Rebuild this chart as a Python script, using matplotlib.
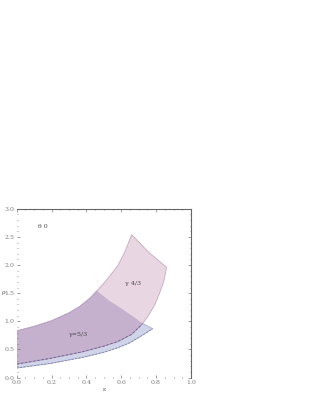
import matplotlib.pyplot as plt
from matplotlib.patches import Polygon
from matplotlib.ticker import MultipleLocator
import numpy as np

# curvas que limitan las regiones
top_x = [0.0, 0.10, 0.20, 0.30, 0.36, 0.42, 0.46, 0.52, 0.58, 0.62, 0.66]
top_y = [0.83, 0.91, 1.01, 1.15, 1.26, 1.41, 1.54, 1.75, 1.99, 2.23, 2.54]

a_right_x = [0.46, 0.53, 0.60, 0.67, 0.73, 0.78]
a_right_y = [1.54, 1.37, 1.23, 1.08, 0.95, 0.87]

a_bot_x = [0.0, 0.19, 0.38, 0.50, 0.58, 0.65, 0.71, 0.78]
a_bot_y = [0.17, 0.25, 0.36, 0.45, 0.53, 0.62, 0.73, 0.87]

b_right_x = [0.66, 0.76, 0.86]
b_right_y = [2.54, 2.22, 1.96]

b_low_x = [0.86, 0.845, 0.82, 0.79, 0.755, 0.72]
b_low_y = [1.96, 1.72, 1.50, 1.28, 1.10, 0.95]

b_bot_x = [0.0, 0.19, 0.38, 0.50, 0.58, 0.66, 0.72]
b_bot_y = [0.24, 0.34, 0.46, 0.56, 0.64, 0.77, 0.95]

x_ticks = [0.0, 0.2, 0.4, 0.6, 0.8, 1.0]
y_ticks = [0.0, 0.5, 1.0, 1.5, 2.0, 2.5, 3.0]

n_a = 7  # puntos de top que pertenecen a la region A

fig = plt.figure(figsize=(3.09, 4.0), dpi=100)
ax = fig.add_axes([0.054, 0.056, 0.564, 0.422])

# region A (gamma=5/3)
pa = list(zip(top_x[:n_a], top_y[:n_a])) + list(zip(a_right_x[1:], a_right_y[1:])) \
    + list(zip(a_bot_x[::-1], a_bot_y[::-1]))
# region B (gamma=4/3)
pb = list(zip(top_x, top_y)) + list(zip(b_right_x[1:], b_right_y[1:])) \
    + list(zip(b_low_x[1:], b_low_y[1:])) + list(zip(b_bot_x[::-1][1:], b_bot_y[::-1][1:]))

poly_a = Polygon(pa, closed=True, facecolor="#d0d4e8", edgecolor="#a8acd0", lw=0.6)
poly_b = Polygon(pb, closed=True, facecolor="#e8d6e2", edgecolor="#c8a8c0", lw=0.6)
ax.add_patch(poly_a)
ax.add_patch(poly_b)
over = Polygon(pb, closed=True, facecolor="#c5b0cd", edgecolor="#a898c0", lw=0.6)
ax.add_patch(over)
over.set_clip_path(poly_a)

ax.plot(b_bot_x, b_bot_y, color="#6e5f86", lw=0.6, ls=(0, (3, 2)))
ax.plot(a_bot_x, a_bot_y, color="#7a7aa0", lw=0.5, ls=(0, (3, 2)))

tf = dict(family="DejaVu Serif", fontsize=4.5, color="#444444")
ax.text(0.12, 2.66, "θ 0", **tf)
ax.text(0.62, 1.64, "γ 4/3", **tf)
ax.text(0.30, 0.74, "γ=5/3", **tf)

ax.set_xlim(0, 1.0)
ax.set_ylim(0, 3.0)
ax.set_xticks(x_ticks)
ax.set_yticks(y_ticks)
ax.set_xticklabels(["%.1f" % v for v in x_ticks], **tf)
ax.set_yticklabels(["%.1f" % v for v in y_ticks], **tf)
ax.xaxis.set_minor_locator(MultipleLocator(0.05))
ax.yaxis.set_minor_locator(MultipleLocator(0.1))
ax.tick_params(which="both", direction="in", top=True, right=True, colors="#777777",
               width=0.5, pad=1.5)
ax.tick_params(which="major", length=2.5)
ax.tick_params(which="minor", length=1)
ax.set_xlabel("ε", labelpad=2, **tf)
ax.set_ylabel("ρ", rotation=0, labelpad=1, **tf)
ax.yaxis.set_label_coords(-0.075, 0.49)

for s in ["left", "bottom"]:
    ax.spines[s].set_visible(False)
for s in ["top", "right"]:
    ax.spines[s].set_color("#666666")
    ax.spines[s].set_linewidth(0.8)

plt.savefig("out.png", dpi=100)
